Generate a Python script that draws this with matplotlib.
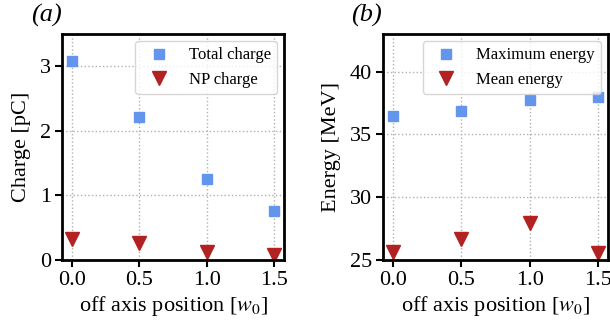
import matplotlib
matplotlib.use("Agg")
import matplotlib.pyplot as plt

positions = [0.0, 0.5, 1.0, 1.5]
total_charge = [3.08, 2.21, 1.25, 0.76]
np_charge = [0.33, 0.26, 0.13, 0.07]
max_energy = [36.45, 36.9, 37.78, 37.95]
mean_energy = [25.66, 26.7, 27.97, 25.58]

plt.rcParams['font.family'] = ['Liberation Serif', 'DejaVu Serif']
plt.rcParams['mathtext.fontset'] = 'stix'

blue = '#6495ED'
red = '#B22222'

fig = plt.figure(figsize=(6.1, 3.23), dpi=100)
ax1 = fig.add_axes([62/610, 1-260/323, 222/610, 226/323])
ax2 = fig.add_axes([383/610, 1-260/323, 225/610, 226/323])

def style(ax):
    for s in ax.spines.values():
        s.set_linewidth(2)
        s.set_color('black')
    ax.grid(True, linestyle=':', color='#b0b0b0', linewidth=1)
    ax.set_axisbelow(True)
    ax.tick_params(labelsize=16, length=5, width=1.5, direction='out', pad=3)
    ax.set_xlim(-0.075, 1.575)
    ax.set_xticks([0.0, 0.5, 1.0, 1.5])
    ax.set_xlabel(r'off axis position [$w_0$]', fontsize=16, labelpad=3)

ax1.plot(positions, total_charge, 's', color=blue, ms=7.5, label='Total charge', linestyle='none')
ax1.plot(positions, np_charge, 'v', color=red, ms=10, label='NP charge', linestyle='none')
style(ax1)
ax1.set_ylim(0, 3.5)
ax1.set_yticks([0, 1, 2, 3])
ax1.set_ylabel('Charge [pC]', fontsize=16, labelpad=6)
ax1.legend(loc='upper right', fontsize=12, edgecolor='#cccccc', fancybox=True, borderaxespad=0.4)
ax1.text(-0.14, 1.03, '(a)', transform=ax1.transAxes, fontsize=19, style='italic', ha='left', va='bottom')

ax2.plot(positions, max_energy, 's', color=blue, ms=7.5, label='Maximum energy', linestyle='none')
ax2.plot(positions, mean_energy, 'v', color=red, ms=10, label='Mean energy', linestyle='none')
style(ax2)
ax2.set_ylim(25, 43)
ax2.set_yticks([25, 30, 35, 40])
ax2.set_ylabel('Energy [MeV]', fontsize=16, labelpad=6)
ax2.legend(loc='upper right', fontsize=12, edgecolor='#cccccc', fancybox=True, borderaxespad=0.4)
ax2.text(-0.14, 1.03, '(b)', transform=ax2.transAxes, fontsize=19, style='italic', ha='left', va='bottom')

fig.savefig('out.png', dpi=100)
